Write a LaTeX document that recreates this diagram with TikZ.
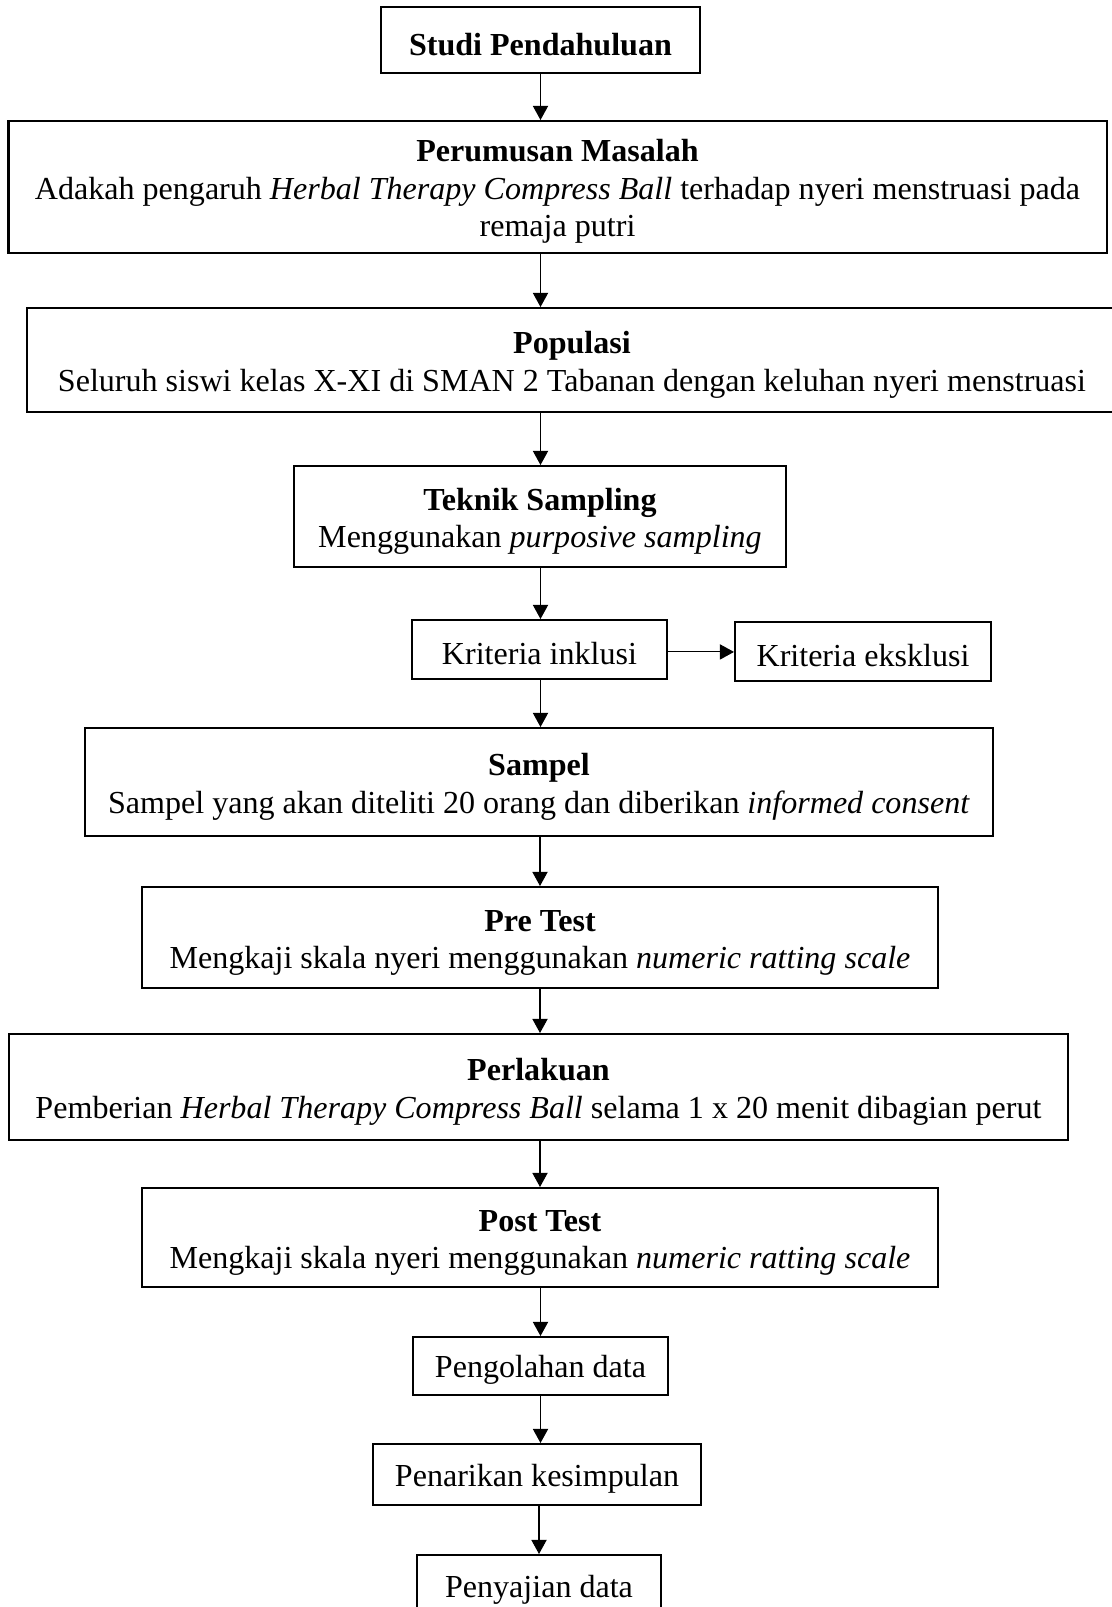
\documentclass[tikz,border=0pt]{standalone}
\usepackage{fontspec}
\setmainfont{Liberation Serif}
\usetikzlibrary{positioning,arrows.meta}
\newdimen\px \px=0.368pt
\newcommand{\judul}[1]{\rule{0pt}{11.6pt}\textbf{#1}}

\begin{document}
\begin{tikzpicture}[
    x=0.368pt, y=-0.368pt,
    box/.style={rectangle, draw, line width=0.74pt, align=center, inner sep=0pt,
                font=\fontsize{11.8}{13.8}\selectfont,
                execute at begin node={\rule{0pt}{11.2pt}}},
    sz/.style 2 args={minimum width=#1*\px, minimum height=#2*\px},
    arr/.style={-{Triangle[length=5.2pt, width=5.6pt]}, line width=0.4pt}]
    \useasboundingbox (0,0) rectangle (1112,1607);
    \node[box, sz={319}{66}, execute at begin node={\rule{0pt}{9.6pt}}] (studi) at (540.5,40)
      {\textbf{Studi Pendahuluan}};
    \node[box, sz={1098}{132}] (masalah) at (557.5,187)
      {\judul{Perumusan Masalah}\\Adakah pengaruh \textit{Herbal Therapy Compress Ball} terhadap nyeri menstruasi pada\\remaja putri};
    \node[box, sz={1090}{104}] (populasi) at (572,360)
      {\judul{Populasi}\\Seluruh siswi kelas X-XI di SMAN 2 Tabanan dengan keluhan nyeri menstruasi};
    \node[box, sz={492}{101}] (teknik) at (540,516.5)
      {\judul{Teknik Sampling}\\Menggunakan \textit{purposive sampling}};
    \node[box, sz={255}{59}] (inklusi) at (539.5,649.5) {Kriteria inklusi};
    \node[box, sz={256}{59}] (eksklusi) at (863,651.5) {Kriteria eksklusi};
    \node[box, sz={908}{108}] (sampel) at (539,782)
      {\judul{Sampel}\\Sampel yang akan diteliti 20 orang dan diberikan \textit{informed consent}};
    \node[box, sz={796}{101}] (pre) at (540,937.5)
      {\judul{Pre Test}\\Mengkaji skala nyeri menggunakan \textit{numeric ratting scale}};
    \node[box, sz={1059}{106}] (perlakuan) at (538.5,1087)
      {\judul{Perlakuan}\\Pemberian \textit{Herbal Therapy Compress Ball} selama 1 x 20 menit dibagian perut};
    \node[box, sz={796}{99}] (post) at (540,1237.5)
      {\judul{Post Test}\\Mengkaji skala nyeri menggunakan \textit{numeric ratting scale}};
    \node[box, sz={255}{58}] (olah) at (540.5,1366) {Pengolahan data};
    \node[box, sz={328}{61}] (simpul) at (537,1474.5) {Penarikan kesimpulan};
    \node[box, sz={244}{62}] (saji) at (539,1586) {Penyajian data};
    % alur utama
    \draw[arr] (studi.south) -- (studi.south |- masalah.north);
    \draw[arr] (masalah.south -| studi.south) -- (populasi.north -| studi.south);
    \draw[arr] (populasi.south -| studi.south) -- (teknik.north -| studi.south);
    \draw[arr] (teknik.south -| studi.south) -- (inklusi.north -| studi.south);
    \draw[arr] ([yshift=-0.9pt]inklusi.east) -- ([yshift=-0.9pt]inklusi.east -| eksklusi.west);
    \draw[arr] (inklusi.south -| studi.south) -- (sampel.north -| studi.south);
    \draw[arr] (sampel.south -| pre.north) -- (pre.north);
    \draw[arr] (pre.south) -- (pre.south |- perlakuan.north);
    \draw[arr] (perlakuan.south -| post.north) -- (post.north);
    \draw[arr] (post.south -| olah.north) -- (olah.north);
    \draw[arr] (olah.south -| studi.south) -- (simpul.north -| studi.south);
    \draw[arr] (simpul.south -| saji.north) -- (saji.north);
\end{tikzpicture}
\end{document}
